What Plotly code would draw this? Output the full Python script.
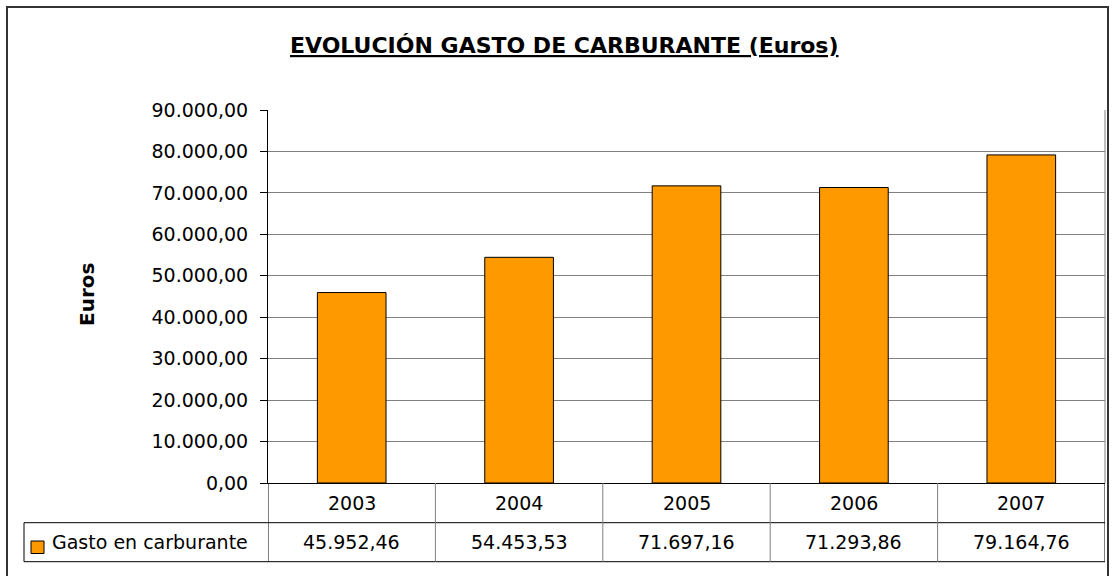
import plotly.graph_objects as go

# ---- data ----
years = ["2003", "2004", "2005", "2006", "2007"]
gasto = [45952.46, 54453.53, 71697.16, 71293.86, 79164.76]
series_name = "Gasto en carburante"
y_ticks = [0, 10000, 20000, 30000, 40000, 50000, 60000, 70000, 80000, 90000]
chart_title = "EVOLUCIÓN GASTO DE CARBURANTE (Euros)"
y_title = "Euros"

# ---- layout geometry (pixels) ----
W, H = 1113, 576
L, R, T, B = 268, 8, 110, 93
PW, PH = W - L - R, H - T - B
FONT = "DejaVu Sans"
ORANGE = "#ff9900"
GRID = "#808080"


def px(x):
    return (x - L) / PW


def py(y):
    return (H - B - y) / PH


def fmt(v):
    s = f"{v:,.2f}"
    return s.replace(",", "_").replace(".", ",").replace("_", ".")


fig = go.Figure()
fig.add_trace(go.Bar(
    x=years, y=gasto, name=series_name, width=0.41,
    marker=dict(color=ORANGE, line=dict(color="black", width=1)),
    showlegend=False, hoverinfo="x+y",
))

shapes = []
# plot right border
shapes.append(dict(type="line", xref="paper", yref="paper", x0=1, x1=1, y0=0, y1=1,
                   line=dict(color=GRID, width=1)))
# table horizontal lines
row1_bottom, row2_bottom = 522.7, 561.7
for yy in (row1_bottom, row2_bottom):
    shapes.append(dict(type="line", xref="paper", yref="paper", x0=px(24), x1=1,
                       y0=py(yy), y1=py(yy), line=dict(color="black", width=1)))
# table vertical lines at category boundaries
n = len(years)
for i in range(n + 1):
    col = "black" if i in (0, n) else GRID
    shapes.append(dict(type="line", xref="x", yref="paper", x0=i - 0.5, x1=i - 0.5,
                       y0=py(row2_bottom), y1=0, line=dict(color=col, width=1)))
# legend cell left edge
shapes.append(dict(type="line", xref="paper", yref="paper", x0=px(24), x1=px(24),
                   y0=py(row1_bottom), y1=py(row2_bottom), line=dict(color="black", width=1)))
# legend swatch
shapes.append(dict(type="rect", xref="paper", yref="paper", x0=px(31), x1=px(44),
                   y0=py(553.5), y1=py(541), fillcolor=ORANGE, line=dict(color="black", width=1)))
# outer chart frame
shapes.append(dict(type="rect", xref="paper", yref="paper", x0=px(7), x1=px(1108),
                   y0=py(600), y1=py(7), line=dict(color="#333333", width=2), layer="below"))

annotations = []
annotations.append(dict(text=chart_title, xref="paper", yref="paper", x=px(564), y=py(45),
                        xanchor="center", yanchor="middle", showarrow=False,
                        font=dict(family=FONT, size=22, color="black", weight="bold",
                                  lineposition="under")))
annotations.append(dict(text="<b>" + y_title + "</b>", xref="paper", yref="paper", x=px(87), y=py(295),
                        xanchor="center", yanchor="middle", showarrow=False, textangle=-90,
                        font=dict(family=FONT, size=20, color="black")))
for i, (yr, v) in enumerate(zip(years, gasto)):
    annotations.append(dict(text=yr, xref="x", yref="paper", x=i, y=py(502.7),
                            xanchor="center", yanchor="middle",
                            showarrow=False, font=dict(family=FONT, size=19, color="black")))
    annotations.append(dict(text=fmt(v), xref="x", yref="paper", x=i, y=py(542.2),
                            xanchor="center", yanchor="middle",
                            showarrow=False, font=dict(family=FONT, size=19, color="black")))
annotations.append(dict(text=series_name, xref="paper", yref="paper", x=px(50), y=py(542.2),
                        xanchor="left", yanchor="middle", showarrow=False,
                        font=dict(family=FONT, size=19, color="black")))

fig.update_layout(
    width=W, height=H,
    margin=dict(l=L, r=R, t=T, b=B, pad=0),
    paper_bgcolor="white", plot_bgcolor="white",
    font=dict(family=FONT, size=19, color="black"),
    separators=",.",
    shapes=shapes, annotations=annotations,
    showlegend=False,
    xaxis=dict(type="category", range=[-0.5, n - 0.5], showticklabels=False, ticks="",
               showline=True, linecolor="black", linewidth=1, showgrid=False, zeroline=False),
    yaxis=dict(range=[0, 90000], tickvals=y_ticks, tickformat=",.2f",
               ticks="outside", ticklen=7, tickcolor="black", tickwidth=1,
               ticklabelstandoff=8,
               showline=True, linecolor="black", linewidth=1,
               showgrid=True, gridcolor=GRID, gridwidth=1, zeroline=False,
               tickfont=dict(family=FONT, size=19, color="black")),
)

fig.write_html("out.html", config={"displayModeBar": False},
               post_script="document.body.style.margin='0';document.body.style.overflow='hidden';")
